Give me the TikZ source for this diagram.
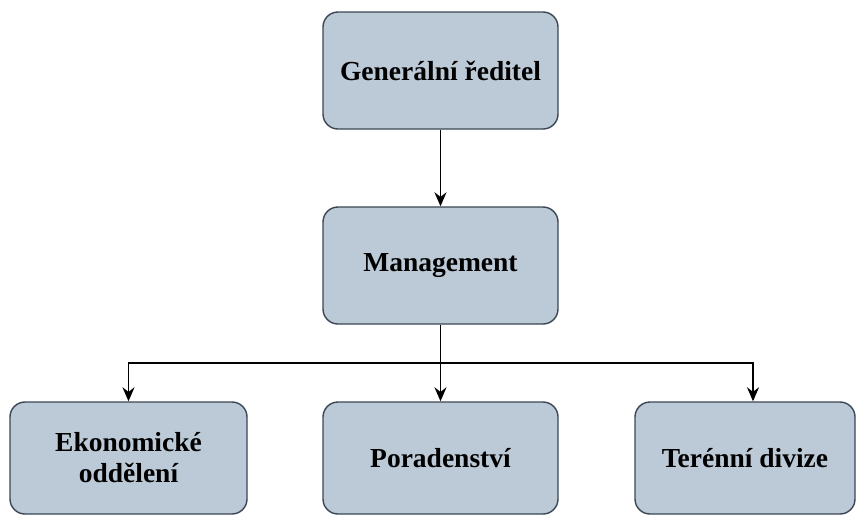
\documentclass[tikz,border=0pt]{standalone}
\usepackage{fontspec}
\setmainfont{Liberation Serif}
\usepackage{xcolor}
\usetikzlibrary{arrows.meta}
\definecolor{boxfill}{RGB}{188,201,214}
\definecolor{boxline}{RGB}{58,70,84}
\tikzset{org/.style={rectangle,rounded corners=15pt,draw=boxline,fill=boxfill,line width=1.4pt,minimum width=235pt,minimum height=117pt,align=center,font=\bfseries\fontsize{27.5}{31}\selectfont}}

\begin{document}
\begin{tikzpicture}[x=1pt,y=-1pt,>={Stealth[length=14pt,width=12pt]},line width=1.7pt]
    \useasboundingbox (0,0) rectangle (859,515);
    \node[org] (gr) at (440.5,70.5) {Generální ředitel};
    \node[org] (mg) at (440.5,265.5) {Management};
    \node[org,minimum width=237pt,minimum height=112pt] (ek) at (128.5,458) {Ekonomické\\oddělení};
    \node[org,minimum height=112pt] (po) at (440.5,458) {Poradenství};
    \node[org,minimum width=220pt,minimum height=112pt] (te) at (745,458) {Terénní divize};
    \coordinate (sp) at (440.5,363);

    \draw [->] (gr) to [] (mg);
    \draw [] (mg) to [] (sp);
    \draw [->] (sp) -| (ek.north);
    \draw [->] (sp) to [] (po);
    \draw [->] (sp) -| ([xshift=8pt]te.north);
\end{tikzpicture}
\end{document}
